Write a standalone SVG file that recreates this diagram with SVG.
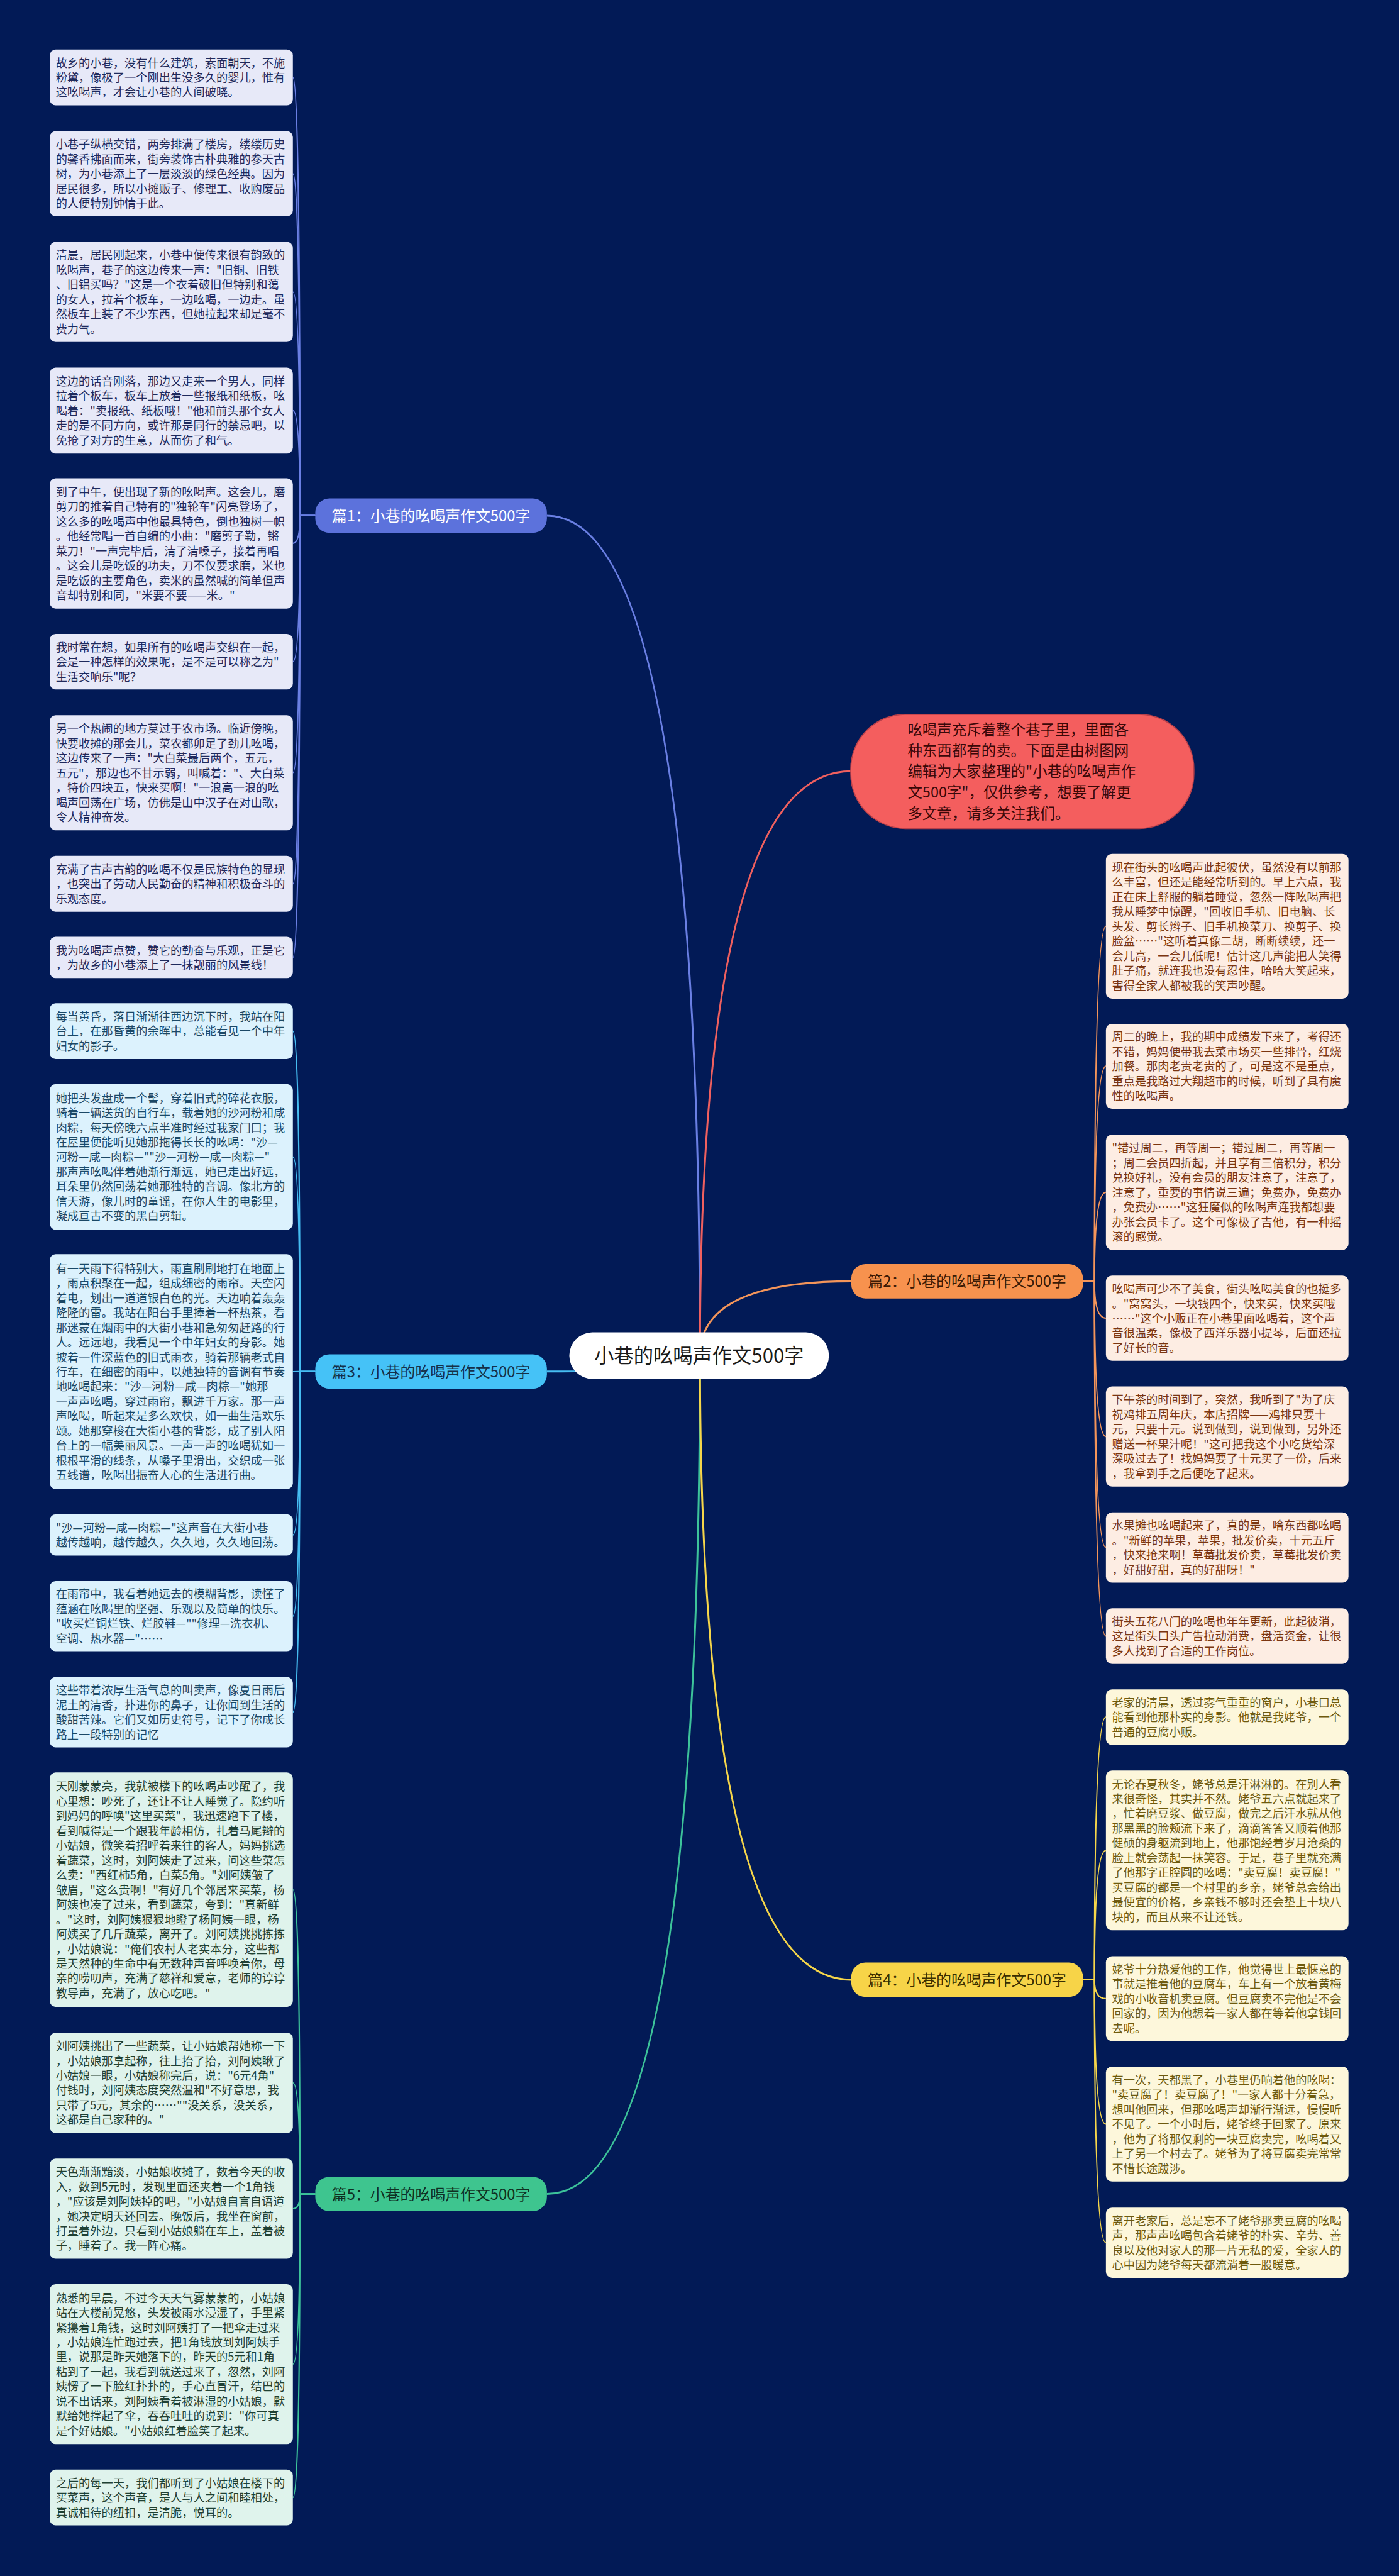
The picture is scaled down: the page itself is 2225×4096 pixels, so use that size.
<svg xmlns="http://www.w3.org/2000/svg" width="2225" height="4096" viewBox="0 0 2225 4096">
<style>
text{font-family:"Noto Sans CJK SC","Noto Sans",sans-serif;}
.lt{font-size:21px;}
.b1l rect{fill:#e7e9f8;} .b1l text{fill:#1f2a5c;}
.b3l rect{fill:#dcf2fd;} .b3l text{fill:#1b4866;}
.b5l rect{fill:#dff3ec;} .b5l text{fill:#1f4033;}
.b2l rect{fill:#fdede3;} .b2l text{fill:#7a3510;}
.b4l rect{fill:#fdf7db;} .b4l text{fill:#6e5a0e;}
.bn text{font-size:27.5px;text-anchor:middle;}
.main path{fill:none;stroke-width:3.5;}
.leafc path{fill:none;stroke-width:2.5;}
</style>
<rect x="0" y="0" width="2225" height="4096" fill="#021a56"/>
<g transform="scale(0.869)">
<g id="connectors">
<g class="main">
<path d="M1281,2480 Q1281,943.5 1001,943.5" stroke="#6a7fe3"/>
<path d="M1281,2480 Q1281,2509.5 1001,2509.5" stroke="#46bdf2"/>
<path d="M1281,2480 Q1281,4014.5 1001,4014.5" stroke="#3dc39a"/>
<path d="M1281,2480 Q1281,2344.5 1558,2344.5" stroke="#f4955a"/>
<path d="M1281,2480 Q1281,3622.5 1558,3622.5" stroke="#f6d64a"/>
<path d="M1281,2480 Q1281,1411 1557,1411" stroke="#f0605f"/>
</g>
<g class="leafc" stroke="#6a7fe3">
<path d="M577,943.5 L549,943.5 Q549,141.6 536,141.6"/>
<path d="M577,943.5 L549,943.5 Q549,318 536,318"/>
<path d="M577,943.5 L549,943.5 Q549,534.2 536,534.2"/>
<path d="M577,943.5 L549,943.5 Q549,751.2 536,751.2"/>
<path d="M577,943.5 L549,943.5 Q549,994.2 536,994.2"/>
<path d="M577,943.5 L549,943.5 Q549,1210.8 536,1210.8"/>
<path d="M577,943.5 L549,943.5 Q549,1414 536,1414"/>
<path d="M577,943.5 L549,943.5 Q549,1617.2 536,1617.2"/>
<path d="M577,943.5 L549,943.5 Q549,1751.8 536,1751.8"/>
</g>
<g class="leafc" stroke="#46bdf2">
<path d="M577,2509.5 L549,2509.5 Q549,1886.8 536,1886.8"/>
<path d="M577,2509.5 L549,2509.5 Q549,2116.9 536,2116.9"/>
<path d="M577,2509.5 L549,2509.5 Q549,2509.8 536,2509.8"/>
<path d="M577,2509.5 L549,2509.5 Q549,2808.6 536,2808.6"/>
<path d="M577,2509.5 L549,2509.5 Q549,2957.2 536,2957.2"/>
<path d="M577,2509.5 L549,2509.5 Q549,3132.9 536,3132.9"/>
</g>
<g class="leafc" stroke="#3dc39a">
<path d="M577,4014.5 L549,4014.5 Q549,3457.7 536,3457.7"/>
<path d="M577,4014.5 L549,4014.5 Q549,3811 536,3811"/>
<path d="M577,4014.5 L549,4014.5 Q549,4041.4 536,4041.4"/>
<path d="M577,4014.5 L549,4014.5 Q549,4325.9 536,4325.9"/>
<path d="M577,4014.5 L549,4014.5 Q549,4569.9 536,4569.9"/>
</g>
<g class="leafc" stroke="#f4955a">
<path d="M1982,2344.5 L2003,2344.5 Q2003,1694.9 2024,1694.9"/>
<path d="M1982,2344.5 L2003,2344.5 Q2003,1951 2024,1951"/>
<path d="M1982,2344.5 L2003,2344.5 Q2003,2181.7 2024,2181.7"/>
<path d="M1982,2344.5 L2003,2344.5 Q2003,2412 2024,2412"/>
<path d="M1982,2344.5 L2003,2344.5 Q2003,2628.5 2024,2628.5"/>
<path d="M1982,2344.5 L2003,2344.5 Q2003,2831.6 2024,2831.6"/>
<path d="M1982,2344.5 L2003,2344.5 Q2003,2993.7 2024,2993.7"/>
</g>
<g class="leafc" stroke="#f6d64a">
<path d="M1982,3622.5 L2003,3622.5 Q2003,3142 2024,3142"/>
<path d="M1982,3622.5 L2003,3622.5 Q2003,3385.8 2024,3385.8"/>
<path d="M1982,3622.5 L2003,3622.5 Q2003,3657 2024,3657"/>
<path d="M1982,3622.5 L2003,3622.5 Q2003,3886.6 2024,3886.6"/>
<path d="M1982,3622.5 L2003,3622.5 Q2003,4103.6 2024,4103.6"/>
</g>
</g>

<g id="center">
<rect x="1042" y="2438" width="475" height="85" rx="42" fill="#ffffff"/>
<text x="1279.5" y="2494" font-size="36" text-anchor="middle" fill="#1a1a1a">小巷的吆喝声作文500字</text>
</g>

<g id="intro">
<rect x="1557" y="1307" width="628" height="209" rx="100" fill="#f45e5e" stroke="#b8404a" stroke-width="2"/>
<text font-size="27" fill="#3a0808">
<tspan x="1661" y="1345">吆喝声充斥着整个巷子里，里面各</tspan>
<tspan x="1661" dy="38.2">种东西都有的卖。下面是由树图网</tspan>
<tspan x="1661" dy="38.2">编辑为大家整理的"小巷的吆喝声作</tspan>
<tspan x="1661" dy="38.2">文500字"，仅供参考，想要了解更</tspan>
<tspan x="1661" dy="38.2">多文章，请多关注我们。</tspan>
</text>
</g>

<g id="branch1" class="bn">
<rect x="577" y="912" width="424" height="63" rx="26" fill="#5c72dc"/>
<text x="789" y="954" fill="#ffffff">篇1：小巷的吆喝声作文500字</text>
</g>
<g id="branch3" class="bn">
<rect x="577" y="2478" width="424" height="63" rx="26" fill="#45c2f7"/>
<text x="789" y="2520" fill="#15304a">篇3：小巷的吆喝声作文500字</text>
</g>
<g id="branch5" class="bn">
<rect x="577" y="3983" width="424" height="63" rx="26" fill="#3ec58f"/>
<text x="789" y="4025" fill="#0f2f22">篇5：小巷的吆喝声作文500字</text>
</g>
<g id="branch2" class="bn">
<rect x="1558" y="2313" width="424" height="63" rx="26" fill="#f7924e"/>
<text x="1770" y="2355" fill="#3a1a05">篇2：小巷的吆喝声作文500字</text>
</g>
<g id="branch4" class="bn">
<rect x="1558" y="3591" width="424" height="63" rx="26" fill="#f7d448"/>
<text x="1770" y="3633" fill="#3a2e00">篇4：小巷的吆喝声作文500字</text>
</g>

<g class="b1l">
<g id="l1-1"><rect x="91" y="90.6" width="445" height="102.1" rx="11"/><text class="lt"><tspan x="102" y="122.6">故乡的小巷，没有什么建筑，素面朝天，不施</tspan><tspan x="102" dy="27">粉黛，像极了一个刚出生没多久的婴儿，惟有</tspan><tspan x="102" dy="27">这吆喝声，才会让小巷的人间破晓。</tspan></text></g>
<g id="l1-2"><rect x="91" y="240" width="445" height="156" rx="11"/><text class="lt"><tspan x="102" y="272">小巷子纵横交错，两旁排满了楼房，缕缕历史</tspan><tspan x="102" dy="27">的馨香拂面而来，街旁装饰古朴典雅的参天古</tspan><tspan x="102" dy="27">树，为小巷添上了一层淡淡的绿色经典。因为</tspan><tspan x="102" dy="27">居民很多，所以小摊贩子、修理工、收购废品</tspan><tspan x="102" dy="27">的人便特别钟情于此。</tspan></text></g>
<g id="l1-3"><rect x="91" y="442.6" width="445" height="183.1" rx="11"/><text class="lt"><tspan x="102" y="474.6">清晨，居民刚起来，小巷中便传来很有韵致的</tspan><tspan x="102" dy="27">吆喝声，巷子的这边传来一声："旧铜、旧铁</tspan><tspan x="102" dy="27">、旧铝买吗？"这是一个衣着破旧但特别和蔼</tspan><tspan x="102" dy="27">的女人，拉着个板车，一边吆喝，一边走。虽</tspan><tspan x="102" dy="27">然板车上装了不少东西，但她拉起来却是毫不</tspan><tspan x="102" dy="27">费力气。</tspan></text></g>
<g id="l1-4"><rect x="91" y="672.6" width="445" height="157.3" rx="11"/><text class="lt"><tspan x="102" y="705.2">这边的话音刚落，那边又走来一个男人，同样</tspan><tspan x="102" dy="27">拉着个板车，板车上放着一些报纸和纸板，吆</tspan><tspan x="102" dy="27">喝着："卖报纸、纸板哦！"他和前头那个女人</tspan><tspan x="102" dy="27">走的是不同方向，或许那是同行的禁忌吧，以</tspan><tspan x="102" dy="27">免抢了对方的生意，从而伤了和气。</tspan></text></g>
<g id="l1-5"><rect x="91" y="875" width="445" height="238.5" rx="11"/><text class="lt"><tspan x="102" y="907.7">到了中午，便出现了新的吆喝声。这会儿，磨</tspan><tspan x="102" dy="27">剪刀的推着自己特有的"独轮车"闪亮登场了，</tspan><tspan x="102" dy="27">这么多的吆喝声中他最具特色，倒也独树一帜</tspan><tspan x="102" dy="27">。他经常唱一首自编的小曲："磨剪子勒，锵</tspan><tspan x="102" dy="27">菜刀！"一声完毕后，清了清嗓子，接着再唱</tspan><tspan x="102" dy="27">。这会儿是吃饭的功夫，刀不仅要求磨，米也</tspan><tspan x="102" dy="27">是吃饭的主要角色，卖米的虽然喊的简单但声</tspan><tspan x="102" dy="27">音却特别和同，"米要不要——米。"</tspan></text></g>
<g id="l1-6"><rect x="91" y="1160" width="445" height="101.5" rx="11"/><text class="lt"><tspan x="102" y="1191.7">我时常在想，如果所有的吆喝声交织在一起，</tspan><tspan x="102" dy="27">会是一种怎样的效果呢，是不是可以称之为"</tspan><tspan x="102" dy="27">生活交响乐"呢？</tspan></text></g>
<g id="l1-7"><rect x="91" y="1308.6" width="445" height="210.8" rx="11"/><text class="lt"><tspan x="102" y="1341">另一个热闹的地方莫过于农市场。临近傍晚，</tspan><tspan x="102" dy="27">快要收摊的那会儿，菜农都卯足了劲儿吆喝，</tspan><tspan x="102" dy="27">这边传来了一声："大白菜最后两个，五元，</tspan><tspan x="102" dy="27">五元"，那边也不甘示弱，叫喊着："、大白菜</tspan><tspan x="102" dy="27">，特价四块五，快来买啊！"一浪高一浪的吆</tspan><tspan x="102" dy="27">喝声回荡在广场，仿佛是山中汉子在对山歌，</tspan><tspan x="102" dy="27">令人精神奋发。</tspan></text></g>
<g id="l1-8"><rect x="91" y="1565.9" width="445" height="102.5" rx="11"/><text class="lt"><tspan x="102" y="1598.1">充满了古声古韵的吆喝不仅是民族特色的显现</tspan><tspan x="102" dy="27">，也突出了劳动人民勤奋的精神和积极奋斗的</tspan><tspan x="102" dy="27">乐观态度。</tspan></text></g>
<g id="l1-9"><rect x="91" y="1713.9" width="445" height="75.8" rx="11"/><text class="lt"><tspan x="102" y="1746.3">我为吆喝声点赞，赞它的勤奋与乐观，正是它</tspan><tspan x="102" dy="27">，为故乡的小巷添上了一抹靓丽的风景线！</tspan></text></g>
</g>

<g class="b3l">
<g id="l3-1"><rect x="91" y="1835.7" width="445" height="102.1" rx="11"/><text class="lt"><tspan x="102" y="1867.7">每当黄昏，落日渐渐往西边沉下时，我站在阳</tspan><tspan x="102" dy="27">台上，在那昏黄的余晖中，总能看见一个中年</tspan><tspan x="102" dy="27">妇女的影子。</tspan></text></g>
<g id="l3-2"><rect x="91" y="1983.7" width="445" height="266.3" rx="11"/><text class="lt"><tspan x="102" y="2016.8">她把头发盘成一个髻，穿着旧式的碎花衣服，</tspan><tspan x="102" dy="27">骑着一辆送货的自行车，载着她的沙河粉和咸</tspan><tspan x="102" dy="27">肉粽，每天傍晚六点半准时经过我家门口；我</tspan><tspan x="102" dy="27">在屋里便能听见她那拖得长长的吆喝："沙—</tspan><tspan x="102" dy="27">河粉—咸—肉粽—""沙—河粉—咸—肉粽—"</tspan><tspan x="102" dy="27">那声声吆喝伴着她渐行渐远，她已走出好远，</tspan><tspan x="102" dy="27">耳朵里仍然回荡着她那独特的音调。像北方的</tspan><tspan x="102" dy="27">信天游，像儿时的童谣，在你人生的电影里，</tspan><tspan x="102" dy="27">凝成亘古不变的黑白剪辑。</tspan></text></g>
<g id="l3-3"><rect x="91" y="2294.9" width="445" height="429.8" rx="11"/><text class="lt"><tspan x="102" y="2328.8">有一天雨下得特别大，雨直刷刷地打在地面上</tspan><tspan x="102" dy="27">，雨点积聚在一起，组成细密的雨帘。天空闪</tspan><tspan x="102" dy="27">着电，划出一道道银白色的光。天边响着轰轰</tspan><tspan x="102" dy="27">隆隆的雷。我站在阳台手里捧着一杯热茶，看</tspan><tspan x="102" dy="27">那迷蒙在烟雨中的大街小巷和急匆匆赶路的行</tspan><tspan x="102" dy="27">人。远远地，我看见一个中年妇女的身影。她</tspan><tspan x="102" dy="27">披着一件深蓝色的旧式雨衣，骑着那辆老式自</tspan><tspan x="102" dy="27">行车，在细密的雨中，以她独特的音调有节奏</tspan><tspan x="102" dy="27">地吆喝起来："沙—河粉—咸—肉粽—"她那</tspan><tspan x="102" dy="27">一声声吆喝，穿过雨帘，飘进千万家。那一声</tspan><tspan x="102" dy="27">声吆喝，听起来是多么欢快，如一曲生活欢乐</tspan><tspan x="102" dy="27">颂。她那穿梭在大街小巷的背影，成了别人阳</tspan><tspan x="102" dy="27">台上的一幅美丽风景。一声一声的吆喝犹如一</tspan><tspan x="102" dy="27">根根平滑的线条，从嗓子里滑出，交织成一张</tspan><tspan x="102" dy="27">五线谱，吆喝出振奋人心的生活进行曲。</tspan></text></g>
<g id="l3-4"><rect x="91" y="2770.8" width="445" height="75.5" rx="11"/><text class="lt"><tspan x="102" y="2803">"沙—河粉—咸—肉粽—"这声音在大街小巷</tspan><tspan x="102" dy="27">越传越响，越传越久，久久地，久久地回荡。</tspan></text></g>
<g id="l3-5"><rect x="91" y="2892.9" width="445" height="128.5" rx="11"/><text class="lt"><tspan x="102" y="2924.6">在雨帘中，我看着她远去的模糊背影，读懂了</tspan><tspan x="102" dy="27">蕴涵在吆喝里的坚强、乐观以及简单的快乐。</tspan><tspan x="102" dy="27">"收买烂铜烂铁、烂胶鞋—""修理—洗衣机、</tspan><tspan x="102" dy="27">空调、热水器—"……</tspan></text></g>
<g id="l3-6"><rect x="91" y="3068.4" width="445" height="128.9" rx="11"/><text class="lt"><tspan x="102" y="3100.3">这些带着浓厚生活气息的叫卖声，像夏日雨后</tspan><tspan x="102" dy="27">泥土的清香，扑进你的鼻子，让你闻到生活的</tspan><tspan x="102" dy="27">酸甜苦辣。它们又如历史符号，记下了你成长</tspan><tspan x="102" dy="27">路上一段特别的记忆</tspan></text></g>
</g>

<g class="b5l">
<g id="l5-1"><rect x="91" y="3243.2" width="445" height="429" rx="11"/><text class="lt"><tspan x="102" y="3276.7">天刚蒙蒙亮，我就被楼下的吆喝声吵醒了，我</tspan><tspan x="102" dy="27">心里想：吵死了，还让不让人睡觉了。隐约听</tspan><tspan x="102" dy="27">到妈妈的呼唤"这里买菜"，我迅速跑下了楼，</tspan><tspan x="102" dy="27">看到喊得是一个跟我年龄相仿，扎着马尾辫的</tspan><tspan x="102" dy="27">小姑娘，微笑着招呼着来往的客人，妈妈挑选</tspan><tspan x="102" dy="27">着蔬菜，这时，刘阿姨走了过来，问这些菜怎</tspan><tspan x="102" dy="27">么卖："西红柿5角，白菜5角。"刘阿姨皱了</tspan><tspan x="102" dy="27">皱眉，"这么贵啊！"有好几个邻居来买菜，杨</tspan><tspan x="102" dy="27">阿姨也凑了过来，看到蔬菜，夸到："真新鲜</tspan><tspan x="102" dy="27">。"这时，刘阿姨狠狠地瞪了杨阿姨一眼，杨</tspan><tspan x="102" dy="27">阿姨买了几斤蔬菜，离开了。刘阿姨挑挑拣拣</tspan><tspan x="102" dy="27">，小姑娘说："俺们农村人老实本分，这些都</tspan><tspan x="102" dy="27">是天然种的生命中有无数种声音呼唤着你，母</tspan><tspan x="102" dy="27">亲的唠叨声，充满了慈祥和爱意，老师的谆谆</tspan><tspan x="102" dy="27">教导声，充满了，放心吃吧。"</tspan></text></g>
<g id="l5-2"><rect x="91" y="3719.1" width="445" height="183.9" rx="11"/><text class="lt"><tspan x="102" y="3751.5">刘阿姨挑出了一些蔬菜，让小姑娘帮她称一下</tspan><tspan x="102" dy="27">，小姑娘那拿起称，往上抬了抬，刘阿姨瞅了</tspan><tspan x="102" dy="27">小姑娘一眼，小姑娘称完后，说："6元4角"</tspan><tspan x="102" dy="27">付钱时，刘阿姨态度突然温和"不好意思，我</tspan><tspan x="102" dy="27">只带了5元，其余的……""没关系，没关系，</tspan><tspan x="102" dy="27">这都是自己家种的。"</tspan></text></g>
<g id="l5-3"><rect x="91" y="3949.7" width="445" height="183.3" rx="11"/><text class="lt"><tspan x="102" y="3981.8">天色渐渐黯淡，小姑娘收摊了，数着今天的收</tspan><tspan x="102" dy="27">入，数到5元时，发现里面还夹着一个1角钱</tspan><tspan x="102" dy="27">，"应该是刘阿姨掉的吧，"小姑娘自言自语道</tspan><tspan x="102" dy="27">，她决定明天还回去。晚饭后，我坐在窗前，</tspan><tspan x="102" dy="27">打量着外边，只看到小姑娘躺在车上，盖着被</tspan><tspan x="102" dy="27">子，睡着了。我一阵心痛。</tspan></text></g>
<g id="l5-4"><rect x="91" y="4179.6" width="445" height="292.6" rx="11"/><text class="lt"><tspan x="102" y="4212.4">熟悉的早晨，不过今天天气雾蒙蒙的，小姑娘</tspan><tspan x="102" dy="27">站在大楼前晃悠，头发被雨水浸湿了，手里紧</tspan><tspan x="102" dy="27">紧攥着1角钱，这时刘阿姨打了一把伞走过来</tspan><tspan x="102" dy="27">，小姑娘连忙跑过去，把1角钱放到刘阿姨手</tspan><tspan x="102" dy="27">里，说那是昨天她落下的，昨天的5元和1角</tspan><tspan x="102" dy="27">粘到了一起，我看到就送过来了，忽然，刘阿</tspan><tspan x="102" dy="27">姨愣了一下脸红扑扑的，手心直冒汗，结巴的</tspan><tspan x="102" dy="27">说不出话来，刘阿姨看着被淋湿的小姑娘，默</tspan><tspan x="102" dy="27">默给她撑起了伞，吞吞吐吐的说到："你可真</tspan><tspan x="102" dy="27">是个好姑娘。"小姑娘红着脸笑了起来。</tspan></text></g>
<g id="l5-5"><rect x="91" y="4518.8" width="445" height="102.1" rx="11"/><text class="lt"><tspan x="102" y="4550.8">之后的每一天，我们都听到了小姑娘在楼下的</tspan><tspan x="102" dy="27">买菜声，这个声音，是人与人之间和睦相处，</tspan><tspan x="102" dy="27">真诚相待的纽扣，是清脆，悦耳的。</tspan></text></g>
</g>

<g class="b2l">
<g id="r2-1"><rect x="2024" y="1562.3" width="444" height="265.2" rx="11"/><text class="lt"><tspan x="2035" y="1594.9">现在街头的吆喝声此起彼伏，虽然没有以前那</tspan><tspan x="2035" dy="27">么丰富，但还是能经常听到的。早上六点，我</tspan><tspan x="2035" dy="27">正在床上舒服的躺着睡觉，忽然一阵吆喝声把</tspan><tspan x="2035" dy="27">我从睡梦中惊醒，"回收旧手机、旧电脑、长</tspan><tspan x="2035" dy="27">头发、剪长辫子、旧手机换菜刀、换剪子、换</tspan><tspan x="2035" dy="27">脸盆……"这听着真像二胡，断断续续，还一</tspan><tspan x="2035" dy="27">会儿高，一会儿低呢！估计这几声能把人笑得</tspan><tspan x="2035" dy="27">肚子痛，就连我也没有忍住，哈哈大笑起来，</tspan><tspan x="2035" dy="27">害得全家人都被我的笑声吵醒。</tspan></text></g>
<g id="r2-2"><rect x="2024" y="1873.3" width="444" height="155.5" rx="11"/><text class="lt"><tspan x="2035" y="1905">周二的晚上，我的期中成绩发下来了，考得还</tspan><tspan x="2035" dy="27">不错，妈妈便带我去菜市场买一些排骨，红烧</tspan><tspan x="2035" dy="27">加餐。那肉老贵老贵的了，可是这不是重点，</tspan><tspan x="2035" dy="27">重点是我路过大翔超市的时候，听到了具有魔</tspan><tspan x="2035" dy="27">性的吆喝声。</tspan></text></g>
<g id="r2-3"><rect x="2024" y="2076.3" width="444" height="210.7" rx="11"/><text class="lt"><tspan x="2035" y="2108.6">"错过周二，再等周一；错过周二，再等周一</tspan><tspan x="2035" dy="27">；周二会员四折起，并且享有三倍积分，积分</tspan><tspan x="2035" dy="27">兑换好礼，没有会员的朋友注意了，注意了，</tspan><tspan x="2035" dy="27">注意了，重要的事情说三遍；免费办，免费办</tspan><tspan x="2035" dy="27">，免费办……"这狂魔似的吆喝声连我都想要</tspan><tspan x="2035" dy="27">办张会员卡了。这个可像极了吉他，有一种摇</tspan><tspan x="2035" dy="27">滚的感觉。</tspan></text></g>
<g id="r2-4"><rect x="2024" y="2333.9" width="444" height="156.1" rx="11"/><text class="lt"><tspan x="2035" y="2366">吆喝声可少不了美食，街头吆喝美食的也挺多</tspan><tspan x="2035" dy="27">。"窝窝头，一块钱四个，快来买，快来买哦</tspan><tspan x="2035" dy="27">……"这个小贩正在小巷里面吆喝着，这个声</tspan><tspan x="2035" dy="27">音很温柔，像极了西洋乐器小提琴，后面还拉</tspan><tspan x="2035" dy="27">了好长的音。</tspan></text></g>
<g id="r2-5"><rect x="2024" y="2536.9" width="444" height="183.1" rx="11"/><text class="lt"><tspan x="2035" y="2569">下午茶的时间到了，突然，我听到了"为了庆</tspan><tspan x="2035" dy="27">祝鸡排五周年庆，本店招牌——鸡排只要十</tspan><tspan x="2035" dy="27">元，只要十元。说到做到，说到做到，另外还</tspan><tspan x="2035" dy="27">赠送一杯果汁呢！"这可把我这个小吃货给深</tspan><tspan x="2035" dy="27">深吸过去了！找妈妈要了十元买了一份，后来</tspan><tspan x="2035" dy="27">，我拿到手之后便吃了起来。</tspan></text></g>
<g id="r2-6"><rect x="2024" y="2767.4" width="444" height="128.4" rx="11"/><text class="lt"><tspan x="2035" y="2799.1">水果摊也吆喝起来了，真的是，啥东西都吆喝</tspan><tspan x="2035" dy="27">。"新鲜的苹果，苹果，批发价卖，十元五斤</tspan><tspan x="2035" dy="27">，快来抢来啊！草莓批发价卖，草莓批发价卖</tspan><tspan x="2035" dy="27">，好甜好甜，真的好甜呀！"</tspan></text></g>
<g id="r2-7"><rect x="2024" y="2942.8" width="444" height="101.7" rx="11"/><text class="lt"><tspan x="2035" y="2974.6">街头五花八门的吆喝也年年更新，此起彼消，</tspan><tspan x="2035" dy="27">这是街头口头广告拉动消费，盘活资金，让很</tspan><tspan x="2035" dy="27">多人找到了合适的工作岗位。</tspan></text></g>
</g>

<g class="b4l">
<g id="r4-1"><rect x="2024" y="3091.2" width="444" height="101.6" rx="11"/><text class="lt"><tspan x="2035" y="3123">老家的清晨，透过雾气重重的窗户，小巷口总</tspan><tspan x="2035" dy="27">能看到他那朴实的身影。他就是我姥爷，一个</tspan><tspan x="2035" dy="27">普通的豆腐小贩。</tspan></text></g>
<g id="r4-2"><rect x="2024" y="3239.5" width="444" height="292.5" rx="11"/><text class="lt"><tspan x="2035" y="3272.2">无论春夏秋冬，姥爷总是汗淋淋的。在别人看</tspan><tspan x="2035" dy="27">来很奇怪，其实并不然。姥爷五六点就起来了</tspan><tspan x="2035" dy="27">，忙着磨豆浆、做豆腐，做完之后汗水就从他</tspan><tspan x="2035" dy="27">那黑黑的脸颊流下来了，滴滴答答又顺着他那</tspan><tspan x="2035" dy="27">健硕的身躯流到地上，他那饱经着岁月沧桑的</tspan><tspan x="2035" dy="27">脸上就会荡起一抹笑容。于是，巷子里就充满</tspan><tspan x="2035" dy="27">了他那字正腔圆的吆喝："卖豆腐！卖豆腐！"</tspan><tspan x="2035" dy="27">买豆腐的都是一个村里的乡亲，姥爷总会给出</tspan><tspan x="2035" dy="27">最便宜的价格，乡亲钱不够时还会垫上十块八</tspan><tspan x="2035" dy="27">块的，而且从来不让还钱。</tspan></text></g>
<g id="r4-3"><rect x="2024" y="3579.5" width="444" height="155.1" rx="11"/><text class="lt"><tspan x="2035" y="3611">姥爷十分热爱他的工作，他觉得世上最惬意的</tspan><tspan x="2035" dy="27">事就是推着他的豆腐车，车上有一个放着黄梅</tspan><tspan x="2035" dy="27">戏的小收音机卖豆腐。但豆腐卖不完他是不会</tspan><tspan x="2035" dy="27">回家的，因为他想着一家人都在等着他拿钱回</tspan><tspan x="2035" dy="27">去呢。</tspan></text></g>
<g id="r4-4"><rect x="2024" y="3781.4" width="444" height="210.4" rx="11"/><text class="lt"><tspan x="2035" y="3813.6">有一次，天都黑了，小巷里仍响着他的吆喝：</tspan><tspan x="2035" dy="27">"卖豆腐了！卖豆腐了！"一家人都十分着急，</tspan><tspan x="2035" dy="27">想叫他回来，但那吆喝声却渐行渐远，慢慢听</tspan><tspan x="2035" dy="27">不见了。一个小时后，姥爷终于回家了。原来</tspan><tspan x="2035" dy="27">，他为了将那仅剩的一块豆腐卖完，吆喝着又</tspan><tspan x="2035" dy="27">上了另一个村去了。姥爷为了将豆腐卖完常常</tspan><tspan x="2035" dy="27">不惜长途跋涉。</tspan></text></g>
<g id="r4-5"><rect x="2024" y="4039.3" width="444" height="128.6" rx="11"/><text class="lt"><tspan x="2035" y="4071.1">离开老家后，总是忘不了姥爷那卖豆腐的吆喝</tspan><tspan x="2035" dy="27">声，那声声吆喝包含着姥爷的朴实、辛劳、善</tspan><tspan x="2035" dy="27">良以及他对家人的那一片无私的爱，全家人的</tspan><tspan x="2035" dy="27">心中因为姥爷每天都流淌着一股暖意。</tspan></text></g>
</g>
</g>
</svg>
